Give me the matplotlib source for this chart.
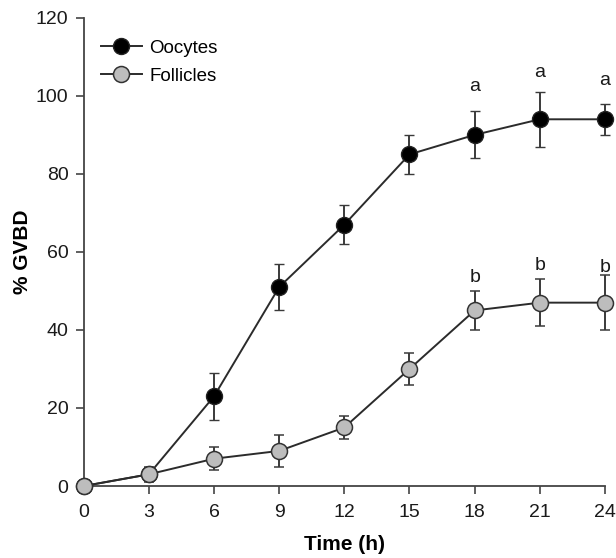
import numpy as np
import matplotlib.pyplot as plt

plt.rcParams['font.family'] = ['Liberation Sans', 'DejaVu Sans']

# time course of germinal vesicle breakdown
hours = [0, 3, 6, 9, 12, 15, 18, 21, 24]
oocytes = [0, 3, 23, 51, 67, 85, 90, 94, 94]
oocytes_err = [0, 0, 6, 6, 5, 5, 6, 7, 4]
follicles = [0, 3, 7, 9, 15, 30, 45, 47, 47]
follicles_err = [0, 2, 3, 4, 3, 4, 5, 6, 7]

# significance letters
a_hours = [18, 21, 24]
a_y = [102.5, 106, 104]
b_hours = [18, 21, 24]
b_y = [53.5, 56.5, 56]

fig = plt.figure(figsize=(6.16, 5.58), dpi=100)
ax = fig.add_axes([0.136, 0.129, 0.846, 0.839])

line_col = '#2b2b2b'
eb1 = ax.errorbar(hours, oocytes, yerr=oocytes_err, color=line_col, ecolor='#3a3a3a',
                  elinewidth=1.4, capsize=3.8, capthick=1.4, lw=1.4,
                  marker='o', ms=11.5, mfc='black', mec='#222222', mew=1,
                  clip_on=False, zorder=3)
eb2 = ax.errorbar(hours, follicles, yerr=follicles_err, color=line_col, ecolor='#3a3a3a',
                  elinewidth=1.4, capsize=3.8, capthick=1.4, lw=1.4,
                  marker='o', ms=11.5, mfc='#bdbdbd', mec='#333333', mew=1.1,
                  clip_on=False, zorder=3)

for x, y in zip(a_hours, a_y):
    ax.text(x, y, 'a', ha='center', va='center', fontsize=14, color='#1a1a1a')
for x, y in zip(b_hours, b_y):
    ax.text(x, y, 'b', ha='center', va='center', fontsize=14, color='#1a1a1a')

ax.set_xlim(0, 24)
ax.set_ylim(0, 120)
ax.set_xticks(hours)
ax.set_yticks(np.arange(0, 121, 20))
ax.tick_params(direction='out', length=6, width=1.2, colors='#444444',
               labelcolor='#1a1a1a', labelsize=14)
ax.tick_params(axis='x', pad=7)
ax.tick_params(axis='y', pad=5)
for s in ['top', 'right']:
    ax.spines[s].set_visible(False)
for s in ['left', 'bottom']:
    ax.spines[s].set_color('#444444')
    ax.spines[s].set_linewidth(1.3)

ax.set_xlabel('Time (h)', fontsize=15, fontweight='bold')
ax.set_ylabel('% GVBD', fontsize=15, fontweight='bold')
ax.xaxis.set_label_coords(0.5, -0.104)
ax.yaxis.set_label_coords(-0.1, 0.5)

# legend shows only the line + marker, no error bars
leg = ax.legend([eb1.lines[0], eb2.lines[0]], ['Oocytes', 'Follicles'],
                loc='upper left', frameon=False, fontsize=13.5,
                bbox_to_anchor=(0.0, 0.99), handlelength=2.2,
                handletextpad=0.4, labelspacing=0.6, numpoints=1)

fig.savefig('out.png', dpi=100)
